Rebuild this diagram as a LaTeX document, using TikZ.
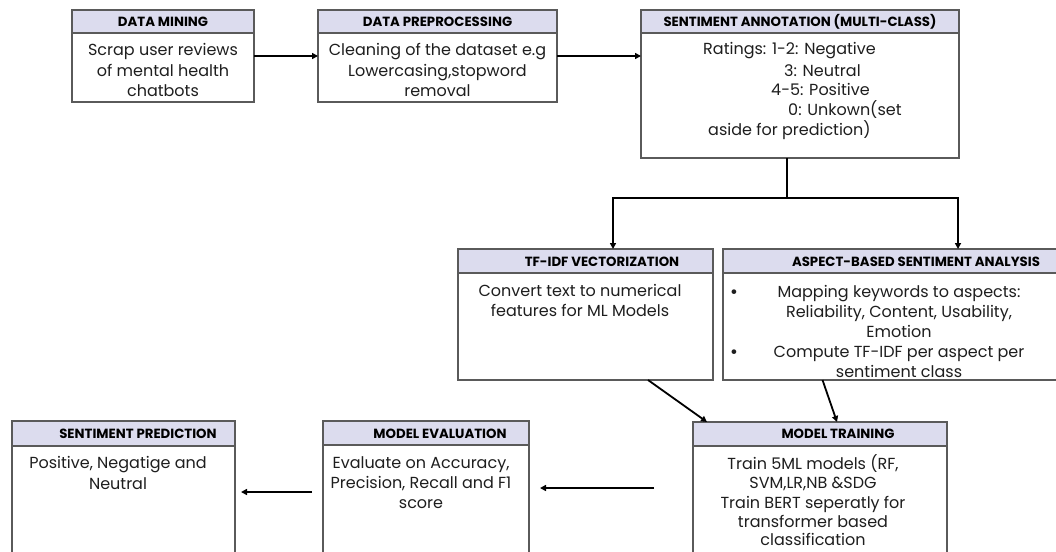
\documentclass[tikz,border=0pt]{standalone}
\usepackage{fontspec}
\setmainfont{Poppins}
\usetikzlibrary{arrows.meta}
\definecolor{hdr}{RGB}{220,220,238}
\definecolor{bd}{RGB}{90,90,90}
\definecolor{tx}{RGB}{30,30,30}
\tikzset{
  boxn/.style={draw=bd, line width=1.2pt, anchor=north west, inner sep=0, outer sep=0},
  hdrn/.style={draw=bd, line width=1.2pt, fill=hdr, anchor=north west, inner sep=0, outer sep=0},
  htxt/.style={anchor=base, inner sep=0, text=black, font=\fontsize{13.3}{15}\selectfont\bfseries},
  btxt/.style={anchor=base, inner sep=0, text=tx, font=\fontsize{16}{18}\selectfont},
  bwtxt/.style={btxt, anchor=base west},
  conn/.style={line width=1.8pt, -{Triangle[length=6pt,width=6pt]}},
  plain/.style={line width=1.8pt},
}
\begin{document}
\begin{tikzpicture}[x=1pt,y=-1pt]
\useasboundingbox (0,0) rectangle (1056,551);
\clip (0,0) rectangle (1056,551);
\fill[white] (0,0) rectangle (1056,551);
% boxes
\node[boxn, minimum width=182pt, minimum height=92pt] (dm) at (72,10) {};
\node[hdrn, minimum width=182pt, minimum height=23pt] (dmh) at (72,10) {};
\node[boxn, minimum width=239pt, minimum height=92pt] (dp) at (318,10) {};
\node[hdrn, minimum width=239pt, minimum height=23pt] (dph) at (318,10) {};
\node[boxn, minimum width=318pt, minimum height=148pt] (sa) at (641,10) {};
\node[hdrn, minimum width=318pt, minimum height=23pt] (sah) at (641,10) {};
\node[boxn, minimum width=255pt, minimum height=131pt] (tf) at (458,249) {};
\node[hdrn, minimum width=255pt, minimum height=24pt] (tfh) at (458,249) {};
\node[boxn, minimum width=336pt, minimum height=131pt] (ab) at (723,249) {};
\node[hdrn, minimum width=336pt, minimum height=24pt] (abh) at (723,249) {};
\node[boxn, minimum width=254pt, minimum height=132pt] (mt) at (693,422) {};
\node[hdrn, minimum width=254pt, minimum height=24pt] (mth) at (693,422) {};
\node[boxn, minimum width=206pt, minimum height=142pt] (me) at (323,421) {};
\node[hdrn, minimum width=206pt, minimum height=24pt] (meh) at (323,421) {};
\node[boxn, minimum width=223pt, minimum height=142pt] (sp) at (12,421) {};
\node[hdrn, minimum width=223pt, minimum height=25pt] (sph) at (12,421) {};
% headers
\node[htxt] (t1) at (163,26.5) {DATA MINING};
\node[htxt] (t2) at (437.5,26.5) {DATA PREPROCESSING};
\node[htxt] (t3) at (800,26.5) {SENTIMENT ANNOTATION (MULTI-CLASS)};
\node[htxt] (t4) at (602,266) {TF-IDF VECTORIZATION};
\node[htxt] (t5) at (916,266) {ASPECT-BASED SENTIMENT ANALYSIS};
\node[htxt] (t6) at (838,438.5) {MODEL TRAINING};
\node[htxt] (t7) at (440,438) {MODEL EVALUATION};
\node[htxt] (t8) at (138,438) {SENTIMENT PREDICTION};
% bodies
\node[btxt] (dm1) at (163,56) {Scrap user reviews};
\node[btxt] (dm2) at (163,76) {of mental health};
\node[btxt] (dm3) at (163,96) {chatbots};
\node[btxt] (dp1) at (437.5,56) {Cleaning of the dataset e.g};
\node[btxt] (dp2) at (437.5,76) {Lowercasing,stopword};
\node[btxt] (dp3) at (437.5,96) {removal};
\node[bwtxt] (sa1) at (703,55) {Ratings: 1-2: Negative};
\node[bwtxt] (sa2) at (784,76) {3: Neutral};
\node[bwtxt] (sa3) at (771,95) {4-5: Positive};
\node[bwtxt] (sa4) at (788,115) {0: Unkown(set};
\node[bwtxt] (sa5) at (708,135) {aside for prediction)};
\node[btxt] (tf1) at (580,296) {Convert text to numerical};
\node[btxt] (tf2) at (580,316) {features for ML Models};
\node[btxt, font=\fontsize{19}{18}\selectfont] (bu1) at (734,298) {\textbullet};
\node[btxt, font=\fontsize{19}{18}\selectfont] (bu2) at (734,358) {\textbullet};
\node[btxt] (ab1) at (899,297) {Mapping keywords to aspects:};
\node[btxt] (ab2) at (899,317) {Reliability, Content, Usability,};
\node[btxt] (ab3) at (899,337) {Emotion};
\node[btxt] (ab4) at (899,357) {Compute TF-IDF per aspect per};
\node[btxt] (ab5) at (899,377) {sentiment class};
\node[btxt] (mt1) at (813,469) {Train 5ML models (RF,};
\node[btxt] (mt2) at (813,488.5) {SVM,LR,NB \&SDG};
\node[btxt] (mt3) at (813,508) {Train BERT seperatly for};
\node[btxt] (mt4) at (813,527) {transformer based};
\node[btxt] (mt5) at (813,545) {classification};
\node[btxt] (me1) at (421,468) {Evaluate on Accuracy,};
\node[btxt] (me2) at (421,488) {Precision, Recall and F1};
\node[btxt] (me3) at (421,508) {score};
\node[btxt] (sp1) at (118,468) {Positive, Negatige and};
\node[btxt] (sp2) at (118,489) {Neutral};
% connectors
\draw[conn] (dm.east) -- (dp.west);
\draw[conn] (dp.east) -- (dp.east -| sa.west);
\coordinate (br) at (787,198);
\coordinate (bl) at (613,198);
\coordinate (brr) at (958,198);
\draw[plain] (sa.south -| br) -- (br);
\draw[conn, line join=miter] (br) -- (bl) -- (bl |- tf.north);
\draw[conn, line join=miter] (br) -- (brr) -- (brr |- ab.north);
\draw[conn] ([xshift=62.5pt]tf.south) -- ([xshift=14pt]mt.north west);
\draw[conn] ([xshift=-68.5pt]ab.south) -- ([xshift=17pt]mt.north);
\draw[conn] ([xshift=-39pt]mt.west) -- ([xshift=11pt]me.east |- mt.west);
\draw[conn] ([xshift=-11pt]me.west) -- ([xshift=6pt]sp.east);
\end{tikzpicture}
\end{document}
